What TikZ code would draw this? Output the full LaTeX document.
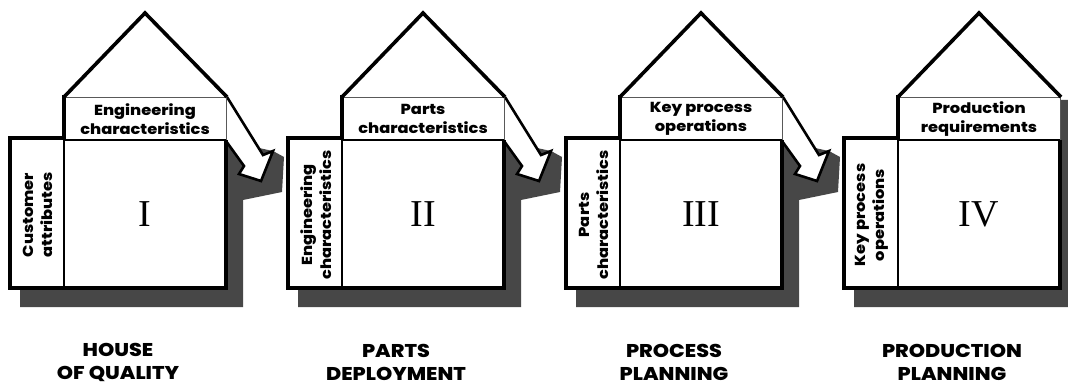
\documentclass[tikz,border=0pt]{standalone}
\usepackage{fontspec}
\setmainfont{Liberation Serif}
\IfFontExistsTF{Poppins ExtraBold}
  {\newfontfamily\housefont{Poppins ExtraBold}[FakeStretch=1.12]}
  {\newfontfamily\housefont{Poppins}[UprightFont={* Bold}, FakeStretch=1.12]}

\begin{document}
\begin{tikzpicture}[x=1pt,y=-1pt,
    shadow/.style={fill=black!72},
    outline/.style={line width=3.2pt, line join=miter},
    inner/.style={line width=1.3pt},
    faint/.style={line width=0.9pt, color=black!65},
    hdr/.style={font=\housefont\fontsize{14.5}{18.5}\selectfont, align=center, inner sep=0pt},
    sidetxt/.style={hdr, rotate=90},
    numeral/.style={font=\fontsize{38}{38}\selectfont, inner sep=0pt},
    caption/.style={font=\housefont\fontsize{18.5}{23}\selectfont, align=center, inner sep=0pt}]

    \useasboundingbox (0,0) rectangle (1068,385);

    % drop shadows
    \foreach \x in {10,288,566}{
      \fill[shadow, shift={(\x,0)}] (10,288) -- (216,288) -- (216,141) -- (263,151) -- (274,157) -- (272,192) -- (233,200) -- (233,307) -- (10,307) -- cycle;
      \draw[fill=white, line width=2.6pt, line join=miter, shift={(\x,0)}] (217,97) -- (253,155) -- (263,151) -- (251,181) -- (229,174) -- (234,166) -- (216,141);
    }
    \fill[shadow] (854,288) -- (1060,288) -- (1060,100) -- (1077,100) -- (1077,307) -- (854,307) -- cycle;

    \foreach \x/\hd/\sd/\nm/\cp [count=\i] in {
        10/{Engineering\\characteristics}/{Customer\\attributes}/I/{HOUSE\\OF QUALITY},
        288/{Parts\\characteristics}/{Engineering\\characteristics}/II/{PARTS\\DEPLOYMENT},
        566/{Key process\\operations}/{Parts\\characteristics}/III/{PROCESS\\PLANNING},
        844/{Production\\requirements}/{Key process\\operations}/IV/{PRODUCTION\\PLANNING}}{
      \begin{scope}[shift={(\x,0)}]
        \fill[white] (0,138) rectangle (216,288) (54,97) rectangle (216,140);
        \draw[faint] (54,97) -- (216,97) -- (216,140);
        \draw[inner] (54,140) -- (216,140) (54,140) -- (54,288);
        \draw[line width=3.6pt, line join=miter] (54,97) -- (135,13) -- (217,97);
        \draw[outline] (216,140) -- (216,288) -- (0,288) -- (0,138) -- (54,138) -- (54,95);
        \node[hdr] (top\i) at (135,119) {\hd};
        \node[sidetxt] (side\i) at (28,215) {\sd};
        \node[numeral] (num\i) at (135,214) {\nm};
        \node[caption] (cap\i) at (108,362) {\cp};
      \end{scope}
    }
\end{tikzpicture}
\end{document}
